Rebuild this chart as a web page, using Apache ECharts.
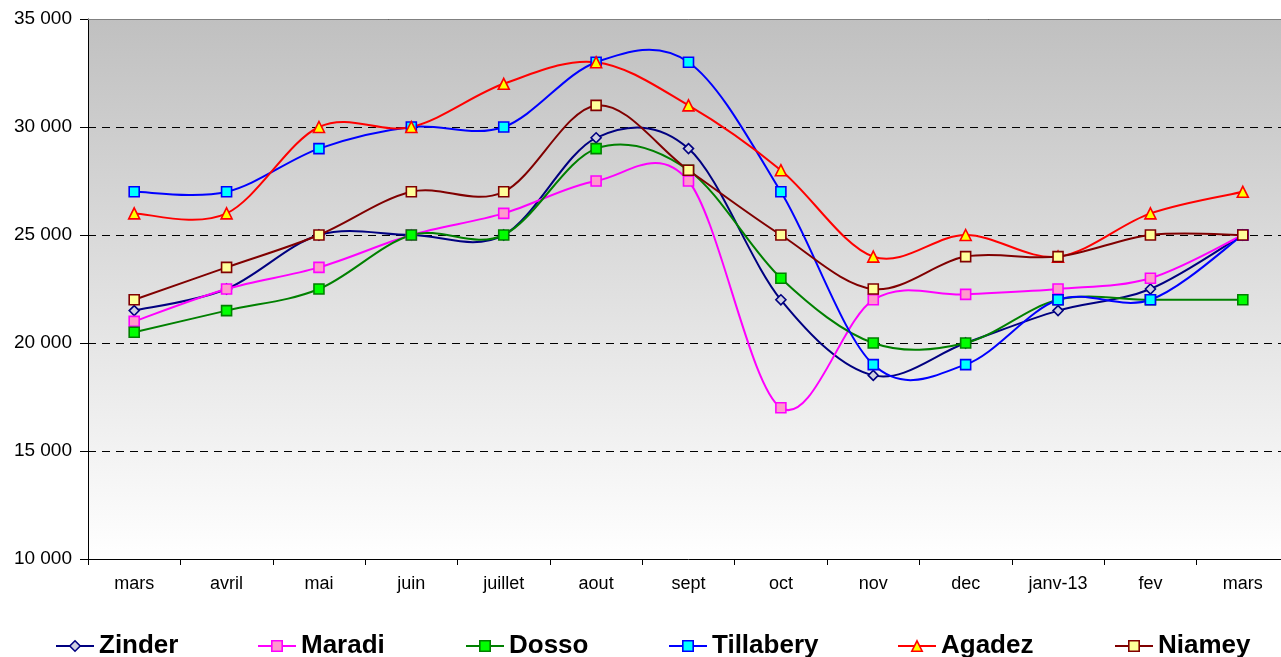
<!DOCTYPE html>
<html><head><meta charset="utf-8">
<script src="https://cdn.jsdelivr.net/npm/echarts@6/dist/echarts.min.js"></script>
<style>html,body{margin:0;padding:0;background:#fff;overflow:hidden}#c{width:1292px;height:657px}</style>
</head><body><div id="c"></div>
<script>
const categories = ['mars','avril','mai','juin','juillet','aout','sept','oct','nov','dec','janv-13','fev','mars'];
const zinder    = [21500,22500,25000,25000,25000,29500,29000,22000,18500,20000,21500,22500,25000];
const maradi    = [21000,22500,23500,25000,26000,27500,27500,17000,22000,22250,22500,23000,25000];
const dosso     = [20500,21500,22500,25000,25000,29000,28000,23000,20000,20000,22000,22000,22000];
const tillabery = [27000,27000,29000,30000,30000,33000,33000,27000,19000,19000,22000,22000,25000];
const agadez    = [26000,26000,30000,30000,32000,33000,31000,28000,24000,25000,24000,26000,27000];
const niamey    = [22000,23500,25000,27000,27000,31000,28000,25000,22500,24000,24000,25000,25000];
const yTicks = {min:10000, max:35000, interval:5000};

const defs = [
  {name:'Zinder', data:zinder, line:'#000080', fill:'#d0d0e0', border:'#000080', symbol:'diamond', size:10, legendLeft:55},
  {name:'Maradi', data:maradi, line:'#ff00ff', fill:'#ff99cc', border:'#ff00ff', symbol:'rect', size:10, legendLeft:257},
  {name:'Dosso', data:dosso, line:'#008000', fill:'#00ff00', border:'#008000', symbol:'rect', size:10, legendLeft:465},
  {name:'Tillabery', data:tillabery, line:'#0000ff', fill:'#00ffff', border:'#0000ff', symbol:'rect', size:10, legendLeft:668},
  {name:'Agadez', data:agadez, line:'#ff0000', fill:'#ffff00', border:'#ff0000', symbol:'triangle', size:11, legendLeft:897},
  {name:'Niamey', data:niamey, line:'#800000', fill:'#ffff99', border:'#800000', symbol:'rect', size:10, legendLeft:1114}
];

const fmt = v => String(v).replace(/\B(?=(\d{3})+(?!\d))/g, ' ');

// Smooth curve (Catmull-Rom style, as in spreadsheet smoothed lines) drawn through axis coordinates
function curveRenderer(values, color) {
  return function (params, api) {
    if (params.dataIndex !== 0) return null;
    const pts = values.map((v, i) => api.coord([i, v]));
    const n = pts.length;
    let d = 'M' + pts[0][0] + ' ' + pts[0][1];
    for (let i = 0; i < n - 1; i++) {
      const p0 = pts[Math.max(i - 1, 0)], p1 = pts[i], p2 = pts[i + 1], p3 = pts[Math.min(i + 2, n - 1)];
      const c1x = p1[0] + (p2[0] - p0[0]) / 6, c1y = p1[1] + (p2[1] - p0[1]) / 6;
      const c2x = p2[0] - (p3[0] - p1[0]) / 6, c2y = p2[1] - (p3[1] - p1[1]) / 6;
      d += ' C' + c1x + ' ' + c1y + ' ' + c2x + ' ' + c2y + ' ' + p2[0] + ' ' + p2[1];
    }
    return {type:'path', shape:{pathData:d}, style:{fill:null, stroke:color, lineWidth:2}, silent:true};
  };
}

const chart = echarts.init(document.getElementById('c'), null, {renderer:'canvas'});
const series = [];
defs.forEach(d => {
  series.push({
    type:'custom', name:d.name + '_curve', data:d.data.map((v, i) => [i, v]),
    encode:{x:0, y:1}, renderItem:curveRenderer(d.data, d.line), z:2, clip:false
  });
});
defs.forEach(d => {
  series.push({
    name:d.name, type:'line', data:d.data,
    symbol:d.symbol, symbolSize:d.size, showSymbol:true,
    lineStyle:{color:d.line, width:0, opacity:0},
    itemStyle:{color:d.fill, borderColor:d.border, borderWidth:1.6},
    z:3
  });
});
series.push({
  type:'line', data:[], markLine:{silent:true, symbol:'none', label:{show:false},
    lineStyle:{color:'#808080', type:'solid', width:1}, data:[{yAxis:35000}]}
});

chart.setOption({
  animation:false,
  backgroundColor:'#ffffff',
  grid:{left:88, top:19, width:1201, height:540, show:true, borderWidth:0,
    backgroundColor:{type:'linear',x:0,y:0,x2:0,y2:1,colorStops:[{offset:0,color:'#c0c0c0'},{offset:1,color:'#ffffff'}]}},
  legend: defs.map(d => ({
    data:[d.name], left:d.legendLeft, top:633, padding:0, itemWidth:38, itemHeight:13, itemGap:0,
    textStyle:{fontFamily:'Liberation Sans, Arial', fontSize:26, fontWeight:'bold', color:'#000'},
    lineStyle:{color:d.line, width:2, opacity:1},
    itemStyle:{color:d.fill, borderColor:d.border, borderWidth:1.6}
  })),
  xAxis:{type:'category', data:categories, boundaryGap:true,
    axisLine:{lineStyle:{color:'#000', width:1}},
    axisTick:{show:true, inside:false, length:6, lineStyle:{color:'#000'}},
    axisLabel:{fontFamily:'Liberation Sans, Arial', fontSize:18, color:'#000', margin:16},
    splitLine:{show:false}},
  yAxis:{type:'value', min:yTicks.min, max:yTicks.max, interval:yTicks.interval,
    axisLine:{show:true, lineStyle:{color:'#000'}},
    axisTick:{show:true, inside:false, length:8, lineStyle:{color:'#000'}},
    axisLabel:{fontFamily:'Liberation Sans, Arial', fontSize:19, color:'#000', margin:16, formatter:fmt},
    splitLine:{show:true, lineStyle:{color:'#000', type:[8,6], width:1}}},
  series: series
});
</script></body></html>
